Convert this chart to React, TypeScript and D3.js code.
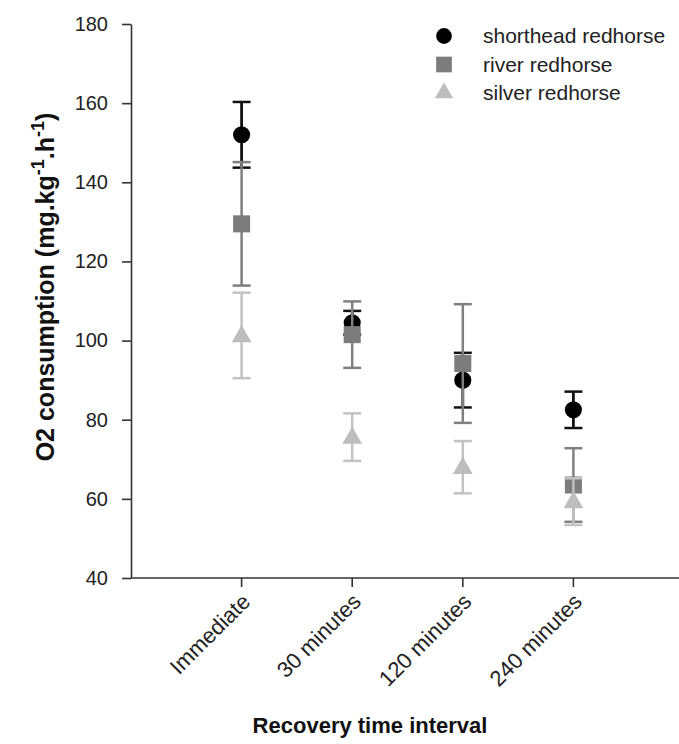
import React, { useEffect, useRef } from "react";
import * as d3 from "d3";

const categories = ["Immediate", "30 minutes", "120 minutes", "240 minutes"];
const yTicks = [40, 60, 80, 100, 120, 140, 160, 180];

const shortheadMean = [152, 104.5, 90, 82.5];
const shortheadErr = [8.3, 3.0, 6.9, 4.6];
const riverMean = [129.5, 101.5, 94.2, 63.5];
const riverErr = [15.6, 8.4, 15, 9.3];
const silverMean = [101.3, 75.6, 68, 59.3];
const silverErr = [10.8, 6, 6.6, 5.9];

const seriesNames = ["shorthead redhorse", "river redhorse", "silver redhorse"];

const App = () => {
  const ref = useRef<SVGSVGElement>(null);

  useEffect(() => {
    const W = 679, H = 744;
    const svg = d3.select(ref.current);
    svg.selectAll("*").remove();
    svg.attr("width", W).attr("height", H);

    const font = "'Liberation Sans', Arial, sans-serif";
    const axisColor = "#333";

    const y = d3.scaleLinear().domain([40, 180]).range([578, 24]);
    const x = d3.scaleLinear().domain([0, 5]).range([131, 684]);

    // y axis
    const yAxis = svg.append("g").attr("transform", `translate(${x(0)},0)`)
      .call(d3.axisLeft(y).tickValues(yTicks).tickSize(9).tickPadding(14).tickSizeOuter(0));
    yAxis.select(".domain").attr("stroke", axisColor).attr("stroke-width", 1.6);
    yAxis.selectAll(".tick line").attr("stroke", axisColor).attr("stroke-width", 1.6);
    yAxis.selectAll(".tick text").attr("font-family", font).attr("font-size", 20).attr("fill", "#222");

    // x axis
    const xg = svg.append("g").attr("transform", `translate(0,${y(40)})`);
    xg.append("line").attr("x1", x(0)).attr("x2", W).attr("stroke", axisColor).attr("stroke-width", 1.6);
    categories.forEach((c, i) => {
      const cx = x(i + 1);
      xg.append("line").attr("x1", cx).attr("x2", cx).attr("y1", 0).attr("y2", 9)
        .attr("stroke", axisColor).attr("stroke-width", 1.6);
      xg.append("text")
        .attr("transform", `translate(${cx + 10},${25}) rotate(-45)`)
        .attr("text-anchor", "end")
        .attr("font-family", font).attr("font-size", 22).attr("fill", "#222")
        .text(c);
    });

    // axis titles
    svg.append("text")
      .attr("x", 370).attr("y", 733)
      .attr("text-anchor", "middle")
      .attr("font-family", font).attr("font-size", 22).attr("font-weight", "bold").attr("fill", "#111")
      .text("Recovery time interval");

    const yl = svg.append("text")
      .attr("transform", `translate(54,287) rotate(-90)`)
      .attr("text-anchor", "middle")
      .attr("font-family", font).attr("font-size", 25).attr("font-weight", "bold").attr("fill", "#111");
    yl.append("tspan").text("O2 consumption (mg.kg");
    yl.append("tspan").attr("baseline-shift", "super").attr("font-size", 18).text("-1");
    yl.append("tspan").text(".h");
    yl.append("tspan").attr("baseline-shift", "super").attr("font-size", 18).text("-1");
    yl.append("tspan").text(")");

    const series = [
      { mean: shortheadMean, err: shortheadErr, color: "#000", bar: "#111", shape: d3.symbolCircle, size: 230, w: 2.8 },
      { mean: riverMean, err: riverErr, color: "#7c7c7c", bar: "#808080", shape: d3.symbolSquare, size: 290, w: 2.5 },
      { mean: silverMean, err: silverErr, color: "#bdbdbd", bar: "#c2c2c2", shape: d3.symbolTriangle, size: 170, w: 2.5 },
    ];

    const capHalf = 9;
    series.forEach((s) => {
      const g = svg.append("g");
      s.mean.forEach((m, i) => {
        const cx = x(i + 1);
        const top = y(m + s.err[i]), bot = y(m - s.err[i]);
        g.append("line").attr("x1", cx).attr("x2", cx).attr("y1", top).attr("y2", bot)
          .attr("stroke", s.bar).attr("stroke-width", s.w);
        [top, bot].forEach((yy) => {
          g.append("line").attr("x1", cx - capHalf).attr("x2", cx + capHalf).attr("y1", yy).attr("y2", yy)
            .attr("stroke", s.bar).attr("stroke-width", 2.5);
        });
        g.append("path")
          .attr("d", d3.symbol().type(s.shape).size(s.size)())
          .attr("transform", `translate(${cx},${y(m) + (s.shape === d3.symbolTriangle ? 1 : 0)})`)
          .attr("fill", s.color);
      });
    });

    // legend
    const lg = svg.append("g");
    series.forEach((s, i) => {
      const ly = 36 + i * 28.5;
      lg.append("path")
        .attr("d", d3.symbol().type(s.shape).size(s.size * 0.85)())
        .attr("transform", `translate(444,${ly})`)
        .attr("fill", s.color);
      lg.append("text")
        .attr("x", 483).attr("y", ly + 7)
        .attr("font-family", font).attr("font-size", 21).attr("fill", "#222")
        .text(seriesNames[i]);
    });
  }, []);

  return <svg ref={ref} style={{ position: "absolute", left: 0, top: 0 }}></svg>;
};

export default App;
